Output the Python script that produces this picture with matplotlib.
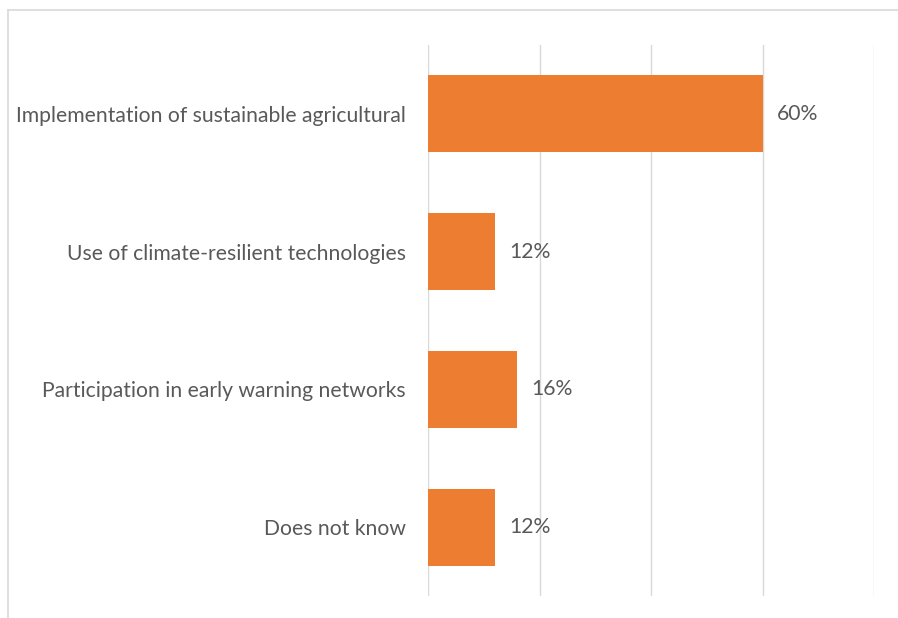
import matplotlib
matplotlib.use("Agg")
import matplotlib.pyplot as plt
from matplotlib.lines import Line2D

categories = ["Implementation of sustainable agricultural",
              "Use of climate-resilient technologies",
              "Participation in early warning networks",
              "Does not know"]
values = [60, 12, 16, 12]
value_labels = ["60%", "12%", "16%", "12%"]

plt.rcParams['font.family'] = ['Lato', 'DejaVu Sans']
fig = plt.figure(figsize=(8.98, 6.18), dpi=100)
ax = fig.add_axes([428/898, 1-596/618, (874-428)/898, (596-45)/618])

y = list(range(len(categories)))
bars = ax.barh(y, values, height=0.56, color="#ED7D31", zorder=3)
ax.set_ylim(3.5, -0.5)
ax.set_xlim(0, 80)
ax.set_xticks([0, 20, 40, 60, 80])
ax.xaxis.grid(True, color="#D9D9D9", linewidth=1.0, zorder=0)
ax.tick_params(axis='x', length=0, labelbottom=False)
ax.tick_params(axis='y', length=0, pad=16, labelsize=15.2, labelcolor="#595959")
ax.set_yticks(y)
ax.set_yticklabels(categories)
for s in ax.spines.values():
    s.set_visible(False)
for b, lab in zip(bars, value_labels):
    ax.annotate(lab, (b.get_width(), b.get_y() + b.get_height()/2),
                xytext=(14, 0), textcoords="offset pixels",
                va="center", ha="left", fontsize=15.2, color="#595959")

fig.add_artist(Line2D([8/898, 1], [1-10/618, 1-10/618], color="#D9D9D9", lw=1.2))
fig.add_artist(Line2D([8/898, 8/898], [0, 1-10/618], color="#D9D9D9", lw=1.2))

fig.savefig("out.png", dpi=100)
